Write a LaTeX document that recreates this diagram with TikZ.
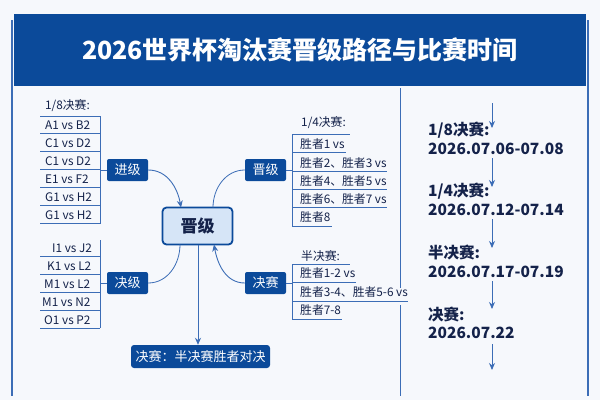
\documentclass[tikz,border=0pt]{standalone}
\usepackage{fontspec}
\setmainfont{Noto Sans CJK SC}
\usetikzlibrary{arrows.meta}
\definecolor{navy}{HTML}{0B4A9A}
\definecolor{ln}{HTML}{3C6DB6}
\definecolor{ink}{HTML}{14224A}
\definecolor{bg}{HTML}{F6F8FC}
\definecolor{lite}{HTML}{D6E5F7}
\tikzset{
 tag/.style={fill=navy,text=white,rounded corners=2pt,minimum width=41pt,minimum height=22pt,inner sep=0pt,font=\fontsize{13}{13}\selectfont},
 item/.style={anchor=west,inner sep=0pt,text=ink,font=\fontsize{11.8}{12}\selectfont},
 tl/.style={anchor=west,inner sep=0pt,text=ink,font=\fontsize{15.5}{16}\selectfont\bfseries},
 rule/.style={ln,line width=0.8pt},
 arr/.style={ln,line width=0.9pt,-{Stealth[length=7pt,width=6pt]}},
}
\begin{document}
\begin{tikzpicture}[x=1pt,y=-1pt]
\useasboundingbox (0,0) rectangle (600,400);
\fill[bg] (0,0) rectangle (600,400);
\draw[ln,line width=1.2pt] (12,20) -- (12,396) (588,20) -- (588,396);
\fill[navy] (14,14) rectangle (586,86);
\node[text=white,font=\fontsize{25}{26}\selectfont\bfseries] (title) at (300,50) {2026世界杯淘汰赛晋级路径与比赛时间};
% divider
\draw[rule] (400,88) -- (400,288) (400,305) -- (400,396);
% left group 1
\node[item] (l0) at (45,106) {1/8决赛:};
\foreach \t [count=\i] in {A1 vs B2,C1 vs D2,C1 vs D2,E1 vs F2,G1 vs H2,G1 vs H2}{
  \node[item] (a\i) at (45,107+18*\i) {\t};
  \draw[rule] (40,115.5+18*\i) -- (100,115.5+18*\i);}
\draw[rule] (40,116) -- (100,116);
\draw[rule] (100,116) -- (100,224);
% left group 2
\foreach \t/\x [count=\i] in {I1 vs J2/52,K1 vs L2/47,M1 vs L2/44,M1 vs N2/42,O1 vs P2/44}{
  \node[item] (b\i) at (\x,230+18*\i) {\t};
  \draw[rule] (40,238+18*\i) -- (100,238+18*\i);}
\draw[rule] (100,240) -- (100,328);
% tags
\node[tag] (jin) at (127.5,170) {进级};
\node[tag] (jue) at (127.5,283) {决级};
\node[tag] (jin2) at (265.5,170) {晋级};
\node[tag] (js) at (265.5,283) {决赛};
\draw[rule] (100,170) -- (jin.west);
\draw[rule] (100,283) -- (jue.west);
\draw[rule] (jin2.east) -- (292,170);
\draw[rule] (js.east) -- (292,283);
% center
\node[draw=navy,line width=1.8pt,fill=lite,rounded corners=4pt,minimum width=70pt,minimum height=37pt,text=ink,font=\fontsize{17}{17}\selectfont\bfseries] (c) at (197.5,226) {晋级};
\node[fill=navy,text=white,rounded corners=3pt,minimum width=139pt,minimum height=23pt,inner sep=0pt,font=\fontsize{13}{13}\selectfont] (fin) at (200.5,356.5) {决赛：半决赛胜者对决};
\draw[arr] (jin.east) to[out=0,in=100] (181,207.5);
\draw[rule] (jue.east) to[out=0,in=-90] (180,244.5);
\draw[rule] (213,207.5) to[out=90,in=180] (jin2.west);
\draw[arr] (js.west) to[out=180,in=-80] (214,244.5);
\draw[arr] (198,244.5) -- (fin.north -| 198,0);
% right group 1
\node[item] (r0) at (301,123) {1/4决赛:};
\foreach \t/\e [count=\i] in {胜者1 vs/346,胜者2、胜者3 vs/387,胜者4、胜者5 vs/387,胜者6、胜者7 vs/387,胜者8/332}{
  \node[item] (q\i) at (300,126+18.3*\i) {\t};
  \draw[rule] (292,134.5+18.3*\i) -- (\e,134.5+18.3*\i);}
\draw[rule] (292,134) -- (350,134);
\draw[rule] (292,134) -- (292,226);
% right group 2
\node[item] (s0) at (301,256) {半决赛:};
\foreach \t/\e [count=\i] in {胜者1-2 vs/356,胜者3-4、胜者5-6 vs/408,胜者7-8/342}{
  \node[item] (s\i) at (300,255+18.5*\i) {\t};
  \draw[rule] (292,264+18.5*\i) -- (\e,264+18.5*\i);}
\draw[rule] (292,264) -- (350,264);
\draw[rule] (292,264) -- (292,320);
% timeline
\node[tl] (t1) at (428,130) {1/8决赛:};
\node[tl] (d1) at (428,149) {2026.07.06-07.08};
\node[tl] (t2) at (428,191) {1/4决赛:};
\node[tl] (d2) at (428,210) {2026.07.12-07.14};
\node[tl] (t3) at (428,252) {半决赛:};
\node[tl] (d3) at (428,272) {2026.07.17-07.19};
\node[tl] (t4) at (428,314) {决赛:};
\node[tl] (d4) at (428,333) {2026.07.22};
\coordinate (s) at (492,103);
\coordinate (e) at (492,370);
\draw[arr] (s) -- (492,128);
\draw[arr] (492,158) -- (492,187);
\draw[arr] (492,219) -- (492,248);
\draw[arr] (492,281) -- (492,309);
\draw[arr] (492,344) -- (e);
\end{tikzpicture}
\end{document}
